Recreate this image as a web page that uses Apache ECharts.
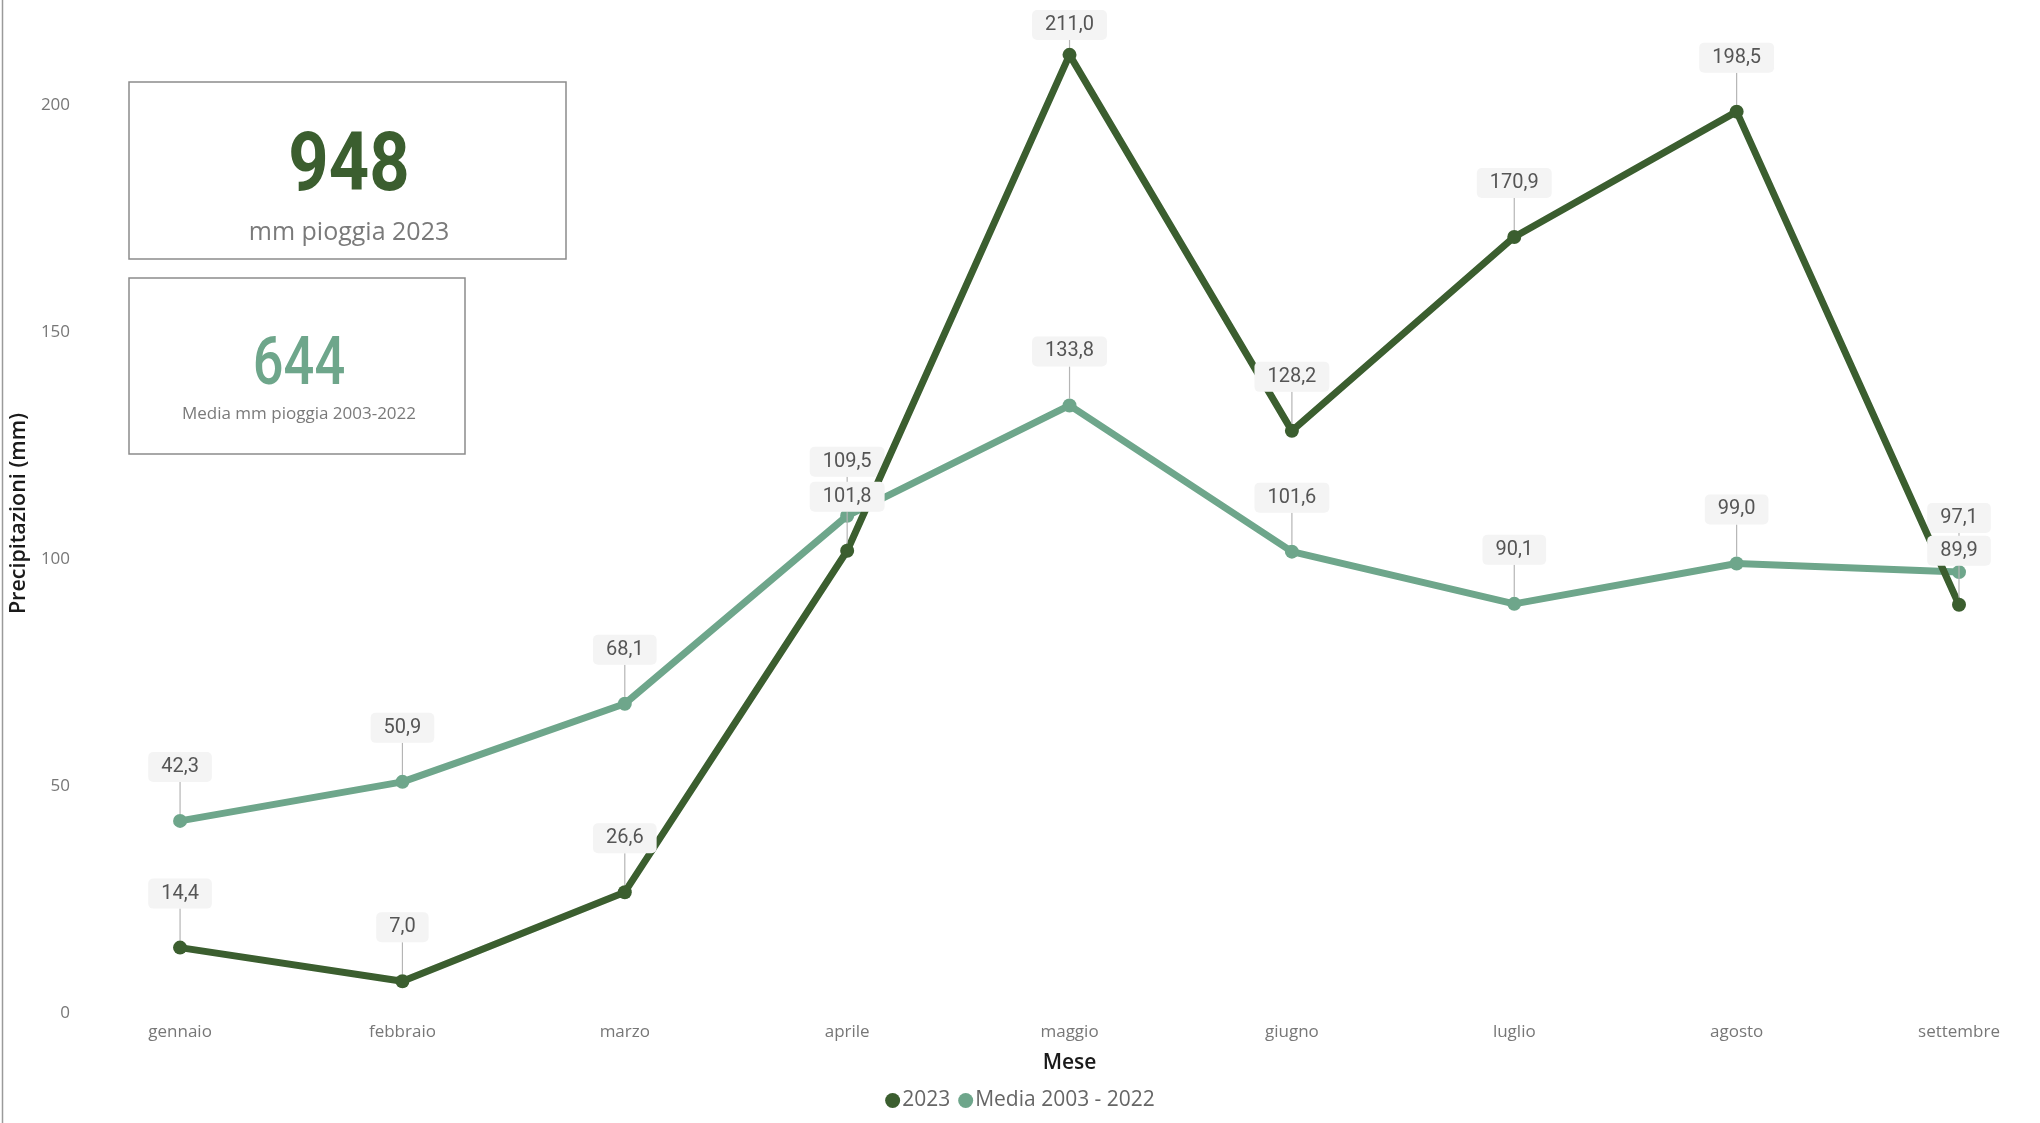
<!DOCTYPE html>
<html>
<head>
<meta charset="utf-8">
<script src="https://cdn.jsdelivr.net/npm/echarts@6/dist/echarts.min.js"></script>
<style>
  html, body { margin: 0; padding: 0; background: #ffffff; }
  #chart { width: 2040px; height: 1123px; }
</style>
</head>
<body>
<div id="chart"></div>
<script>
// Monthly rainfall (mm)
const months = ['gennaio', 'febbraio', 'marzo', 'aprile', 'maggio', 'giugno', 'luglio', 'agosto', 'settembre'];
const rain2023 = [14.4, 7.0, 26.6, 101.8, 211.0, 128.2, 170.9, 198.5, 89.9];
const rainMedia = [42.3, 50.9, 68.1, 109.5, 133.8, 101.6, 90.1, 99.0, 97.1];
const seriesNames = ['2023', 'Media 2003 - 2022'];
const mediaTotal = 644;
const yTickStep = 50;

const total2023 = Math.round(rain2023.reduce((a, b) => a + b, 0));

const DARK = '#3b5e2f';
const LIGHT = '#6ea68b';
const fmt = v => v.toFixed(1).replace('.', ',');

const valueLabel = {
  show: true,
  position: 'top',
  distance: 32,
  formatter: p => fmt(p.value),
  fontFamily: 'Roboto',
  fontSize: 20,
  color: '#555555',
  backgroundColor: '#f4f4f4',
  borderRadius: 5,
  padding: [5, 13, 5, 13]
};
const leader = { show: true, lineStyle: { color: '#b5b5b5', width: 1.2 } };
// keep labels inside the top edge of the canvas
const keepInside = params => {
  const top = 10;
  return params.labelRect.y < top ? { dy: top - params.labelRect.y } : {};
};

const chart = echarts.init(document.getElementById('chart'), null, { renderer: 'canvas' });
chart.setOption({
  animation: false,
  backgroundColor: '#ffffff',
  grid: { left: 180, right: 81, top: 14, bottom: 110, containLabel: false },
  xAxis: {
    type: 'category',
    data: months,
    boundaryGap: false,
    axisLine: { show: false },
    axisTick: { show: false },
    axisLabel: { color: '#777777', fontFamily: 'Open Sans', fontSize: 17, margin: 11 },
    name: 'Mese',
    nameLocation: 'middle',
    nameGap: 40,
    nameTextStyle: { color: '#1a1a1a', fontFamily: 'Open Sans', fontWeight: 600, fontSize: 21 }
  },
  yAxis: {
    type: 'value',
    min: 0,
    max: 220,
    interval: yTickStep,
    splitLine: { show: false },
    axisLine: { show: false },
    axisTick: { show: false },
    axisLabel: { color: '#777777', fontFamily: 'Open Sans', fontSize: 17, margin: 110, showMaxLabel: false },
    name: 'Precipitazioni (mm)',
    nameLocation: 'middle',
    nameGap: 146,
    nameTextStyle: { color: '#1a1a1a', fontFamily: 'Open Sans', fontWeight: 600, fontSize: 21.5 }
  },
  legend: {
    data: seriesNames,
    left: 'center',
    top: 1085,
    icon: 'circle',
    itemWidth: 15,
    itemHeight: 15,
    itemGap: 8,
    textStyle: { color: '#666666', fontFamily: 'Open Sans', fontSize: 21, padding: [0, 0, 0, -3] }
  },
  series: [
    {
      name: seriesNames[1],
      type: 'line',
      data: rainMedia,
      color: LIGHT,
      symbol: 'circle',
      symbolSize: 14,
      lineStyle: { width: 7, color: LIGHT },
      itemStyle: { color: LIGHT },
      label: valueLabel,
      labelLine: leader,
      labelLayout: keepInside,
      z: 2
    },
    {
      name: seriesNames[0],
      type: 'line',
      data: rain2023,
      color: DARK,
      symbol: 'circle',
      symbolSize: 14,
      lineStyle: { width: 7, color: DARK },
      itemStyle: { color: DARK },
      label: valueLabel,
      labelLine: leader,
      labelLayout: keepInside,
      z: 3
    }
  ],
  graphic: [
    { type: 'line', shape: { x1: 2.5, y1: 0, x2: 2.5, y2: 1123 }, style: { stroke: '#9a9a9a', lineWidth: 1.5 } },
    // total 2023 card
    { type: 'rect', shape: { x: 129, y: 82, width: 437, height: 177 }, style: { fill: '#ffffff', stroke: '#8c8c8c', lineWidth: 1.5 }, z: 10 },
    { type: 'text', x: 349, y: 170, scaleX: 0.87, z: 11,
      style: { text: String(total2023), fill: DARK, font: 'bold 81px Roboto', textAlign: 'center', textVerticalAlign: 'middle' } },
    { type: 'text', x: 349, y: 233, z: 11,
      style: { text: 'mm pioggia 2023', fill: '#7a7a7a', font: '25px "Open Sans"', textAlign: 'center', textVerticalAlign: 'middle' } },
    // average card
    { type: 'rect', shape: { x: 129, y: 278, width: 336, height: 176 }, style: { fill: '#ffffff', stroke: '#8c8c8c', lineWidth: 1.5 }, z: 10 },
    { type: 'text', x: 299, y: 367, scaleX: 0.82, z: 11,
      style: { text: String(mediaTotal), fill: LIGHT, font: '500 66px Roboto', textAlign: 'center', textVerticalAlign: 'middle' } },
    { type: 'text', x: 299, y: 414, z: 11,
      style: { text: 'Media mm pioggia 2003-2022', fill: '#7a7a7a', font: '17px "Open Sans"', textAlign: 'center', textVerticalAlign: 'middle' } }
  ]
});
</script>
</body>
</html>
